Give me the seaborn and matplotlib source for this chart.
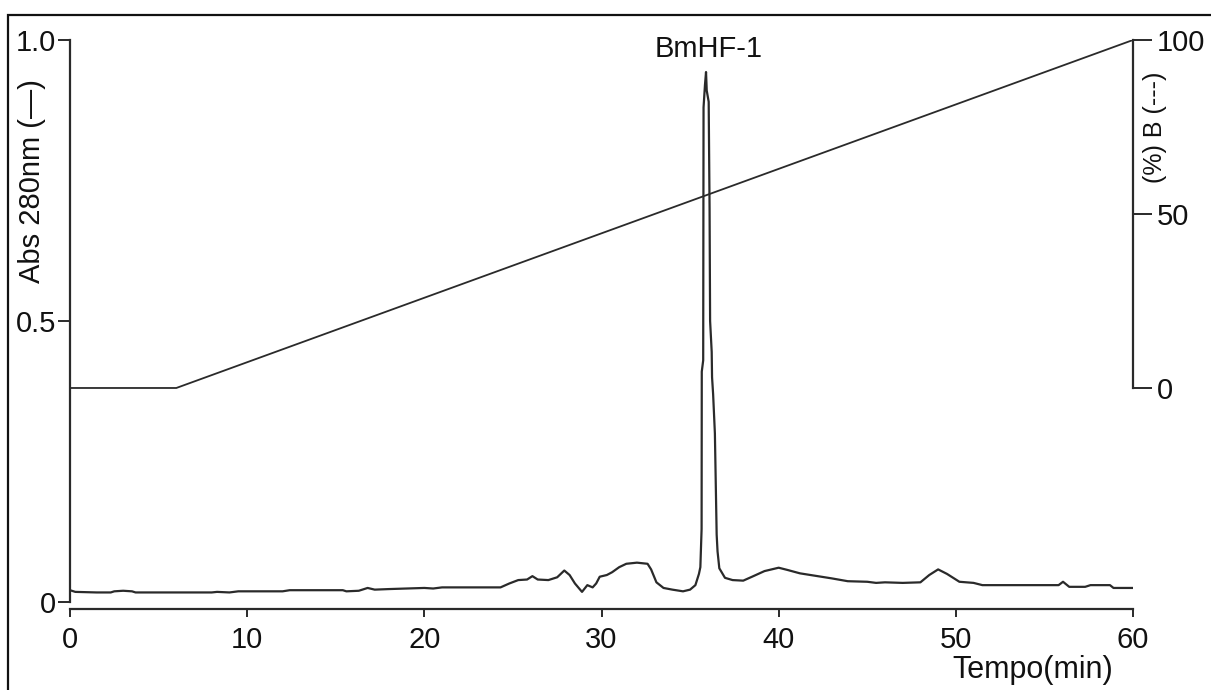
import matplotlib
matplotlib.use("Agg")
import matplotlib.pyplot as plt
import matplotlib.patches as mpatches
import seaborn as sns
import pandas as pd

# ---- data ----
time_min = [0.0, 0.3, 1.5, 2.3, 2.5, 3.0, 3.5, 3.7, 6.0, 8.0, 8.3, 9.0, 9.5, 12.0, 12.4,
            15.4, 15.6, 16.3, 16.8, 17.2, 18.0, 19.0, 20.0, 20.5, 21.0, 22.0, 23.0, 24.3,
            24.8, 25.3, 25.8, 26.1, 26.4, 27.0, 27.5, 27.9, 28.2, 28.5, 28.9, 29.2, 29.5,
            29.7, 29.9, 30.3, 30.6, 31.0, 31.4, 32.0, 32.6, 32.8, 33.1, 33.5, 34.0, 34.6,
            35.0, 35.3, 35.5, 35.58, 35.65, 35.66, 35.74, 35.76, 35.84, 35.90, 35.94,
            36.05, 36.10, 36.13, 36.22, 36.24, 36.30, 36.40, 36.50, 36.55, 36.65, 36.97,
            37.4, 38.0, 38.5, 39.2, 40.0, 40.5, 41.2, 42.0, 43.0, 43.9, 45.0, 45.5, 46.0,
            47.0, 48.0, 48.5, 49.0, 49.5, 50.2, 51.0, 51.5, 53.0, 55.8, 56.05, 56.4, 57.3,
            57.6, 58.7, 58.9, 60.0]
abs_280 = [0.021, 0.018, 0.017, 0.017, 0.019, 0.020, 0.019, 0.017, 0.017, 0.017, 0.018,
           0.017, 0.019, 0.019, 0.021, 0.021, 0.019, 0.020, 0.025, 0.022, 0.023, 0.024,
           0.025, 0.024, 0.026, 0.026, 0.026, 0.026, 0.033, 0.039, 0.040, 0.046, 0.040,
           0.039, 0.044, 0.056, 0.048, 0.033, 0.018, 0.030, 0.026, 0.033, 0.045, 0.048,
           0.053, 0.062, 0.068, 0.070, 0.068, 0.058, 0.035, 0.025, 0.022, 0.019, 0.022,
           0.030, 0.050, 0.062, 0.130, 0.410, 0.430, 0.880, 0.920, 0.943, 0.910, 0.890,
           0.700, 0.500, 0.445, 0.400, 0.370, 0.300, 0.120, 0.090, 0.060, 0.043, 0.039,
           0.038, 0.045, 0.055, 0.061, 0.057, 0.051, 0.047, 0.042, 0.037, 0.036, 0.034,
           0.035, 0.034, 0.035, 0.048, 0.058, 0.050, 0.036, 0.034, 0.030, 0.030, 0.030,
           0.036, 0.027, 0.027, 0.030, 0.030, 0.025, 0.025]

grad_time = [0, 6, 60]
grad_b = [0, 0, 100]

x_ticks = [0, 10, 20, 30, 40, 50, 60]
left_ticks = [0, 0.5, 1.0]
left_labels = ["0", "0.5", "1.0"]
right_ticks = [0, 50, 100]
peak_label = "BmHF-1"

chrom = pd.DataFrame({"t": time_min, "a": abs_280})
grad = pd.DataFrame({"t": grad_time, "b": grad_b})

# ---- style ----
sns.set_style("ticks")
plt.rcParams["font.family"] = ["Liberation Sans", "DejaVu Sans"]
FS = 21
ink = "#2a2a2a"
txt = "#111111"

fig = plt.figure(figsize=(12.11, 6.90), dpi=100)
W, H = 1211, 690
ax = fig.add_axes([70 / W, 1 - 602 / H, (1133 - 70) / W, (602 - 40) / H])
ax2 = ax.twinx()

sns.lineplot(data=chrom, x="t", y="a", ax=ax, color=ink, lw=1.6, estimator=None, sort=False)
sns.lineplot(data=grad, x="t", y="b", ax=ax2, color=ink, lw=1.3, estimator=None, sort=False)

ax.set_xlim(0, 60)
ax.set_ylim(0, 1.0)
ax2.set_ylim(-61.5, 100)

for a in (ax, ax2):
    a.set_xlabel("")
    a.set_ylabel("")
    for s in a.spines.values():
        s.set_color(ink)
        s.set_linewidth(1.6)
    a.patch.set_visible(False)

ax.spines["top"].set_visible(False)
ax.spines["right"].set_visible(False)
ax2.spines["top"].set_visible(False)
ax2.spines["left"].set_visible(False)
ax2.spines["bottom"].set_visible(False)
ax.spines["bottom"].set_position(("outward", 5))
ax.spines["bottom"].set_bounds(0, 60)
ax.spines["left"].set_bounds(0, 1.0)
ax2.spines["right"].set_bounds(0, 100)

ax.set_xticks(x_ticks)
ax.set_xticklabels([str(v) for v in x_ticks])
ax.set_yticks(left_ticks)
ax.set_yticklabels(left_labels)
ax2.set_yticks(right_ticks)
ax2.set_yticklabels([str(v) for v in right_ticks])

ax.tick_params(axis="x", length=6, width=1.4, color=ink, labelsize=FS, pad=6, labelcolor=txt)
ax.tick_params(axis="y", length=9, width=1.4, color=ink, labelsize=FS, pad=1, labelcolor=txt)
ax2.tick_params(axis="y", length=14, width=1.4, color=ink, labelsize=FS, pad=3, labelcolor=txt)

# labels
ax.text(-0.036, 0.749, "Abs 280nm (—)", rotation=90, transform=ax.transAxes,
        ha="center", va="center", fontsize=FS, color=txt)
ax2.text(1.0207, 0.845, "(%) B (---)", rotation=90, transform=ax.transAxes,
         ha="center", va="center", fontsize=FS - 3, color=txt)
fig.text(952 / W, 1 - 678 / H, "Tempo(min)", ha="left", va="baseline",
         fontsize=FS + 1, color=txt)
ax.text(36.07, 0.970, peak_label, ha="center", va="baseline", fontsize=FS, color=txt)

# figure frame
fig.patches.append(mpatches.Rectangle((8 / W, -0.05), 1.1, 1 - 15 / H + 0.05,
                                      transform=fig.transFigure, fill=False,
                                      edgecolor=txt, lw=1.6, clip_on=False))

fig.savefig("out.png", dpi=100, facecolor="white")
